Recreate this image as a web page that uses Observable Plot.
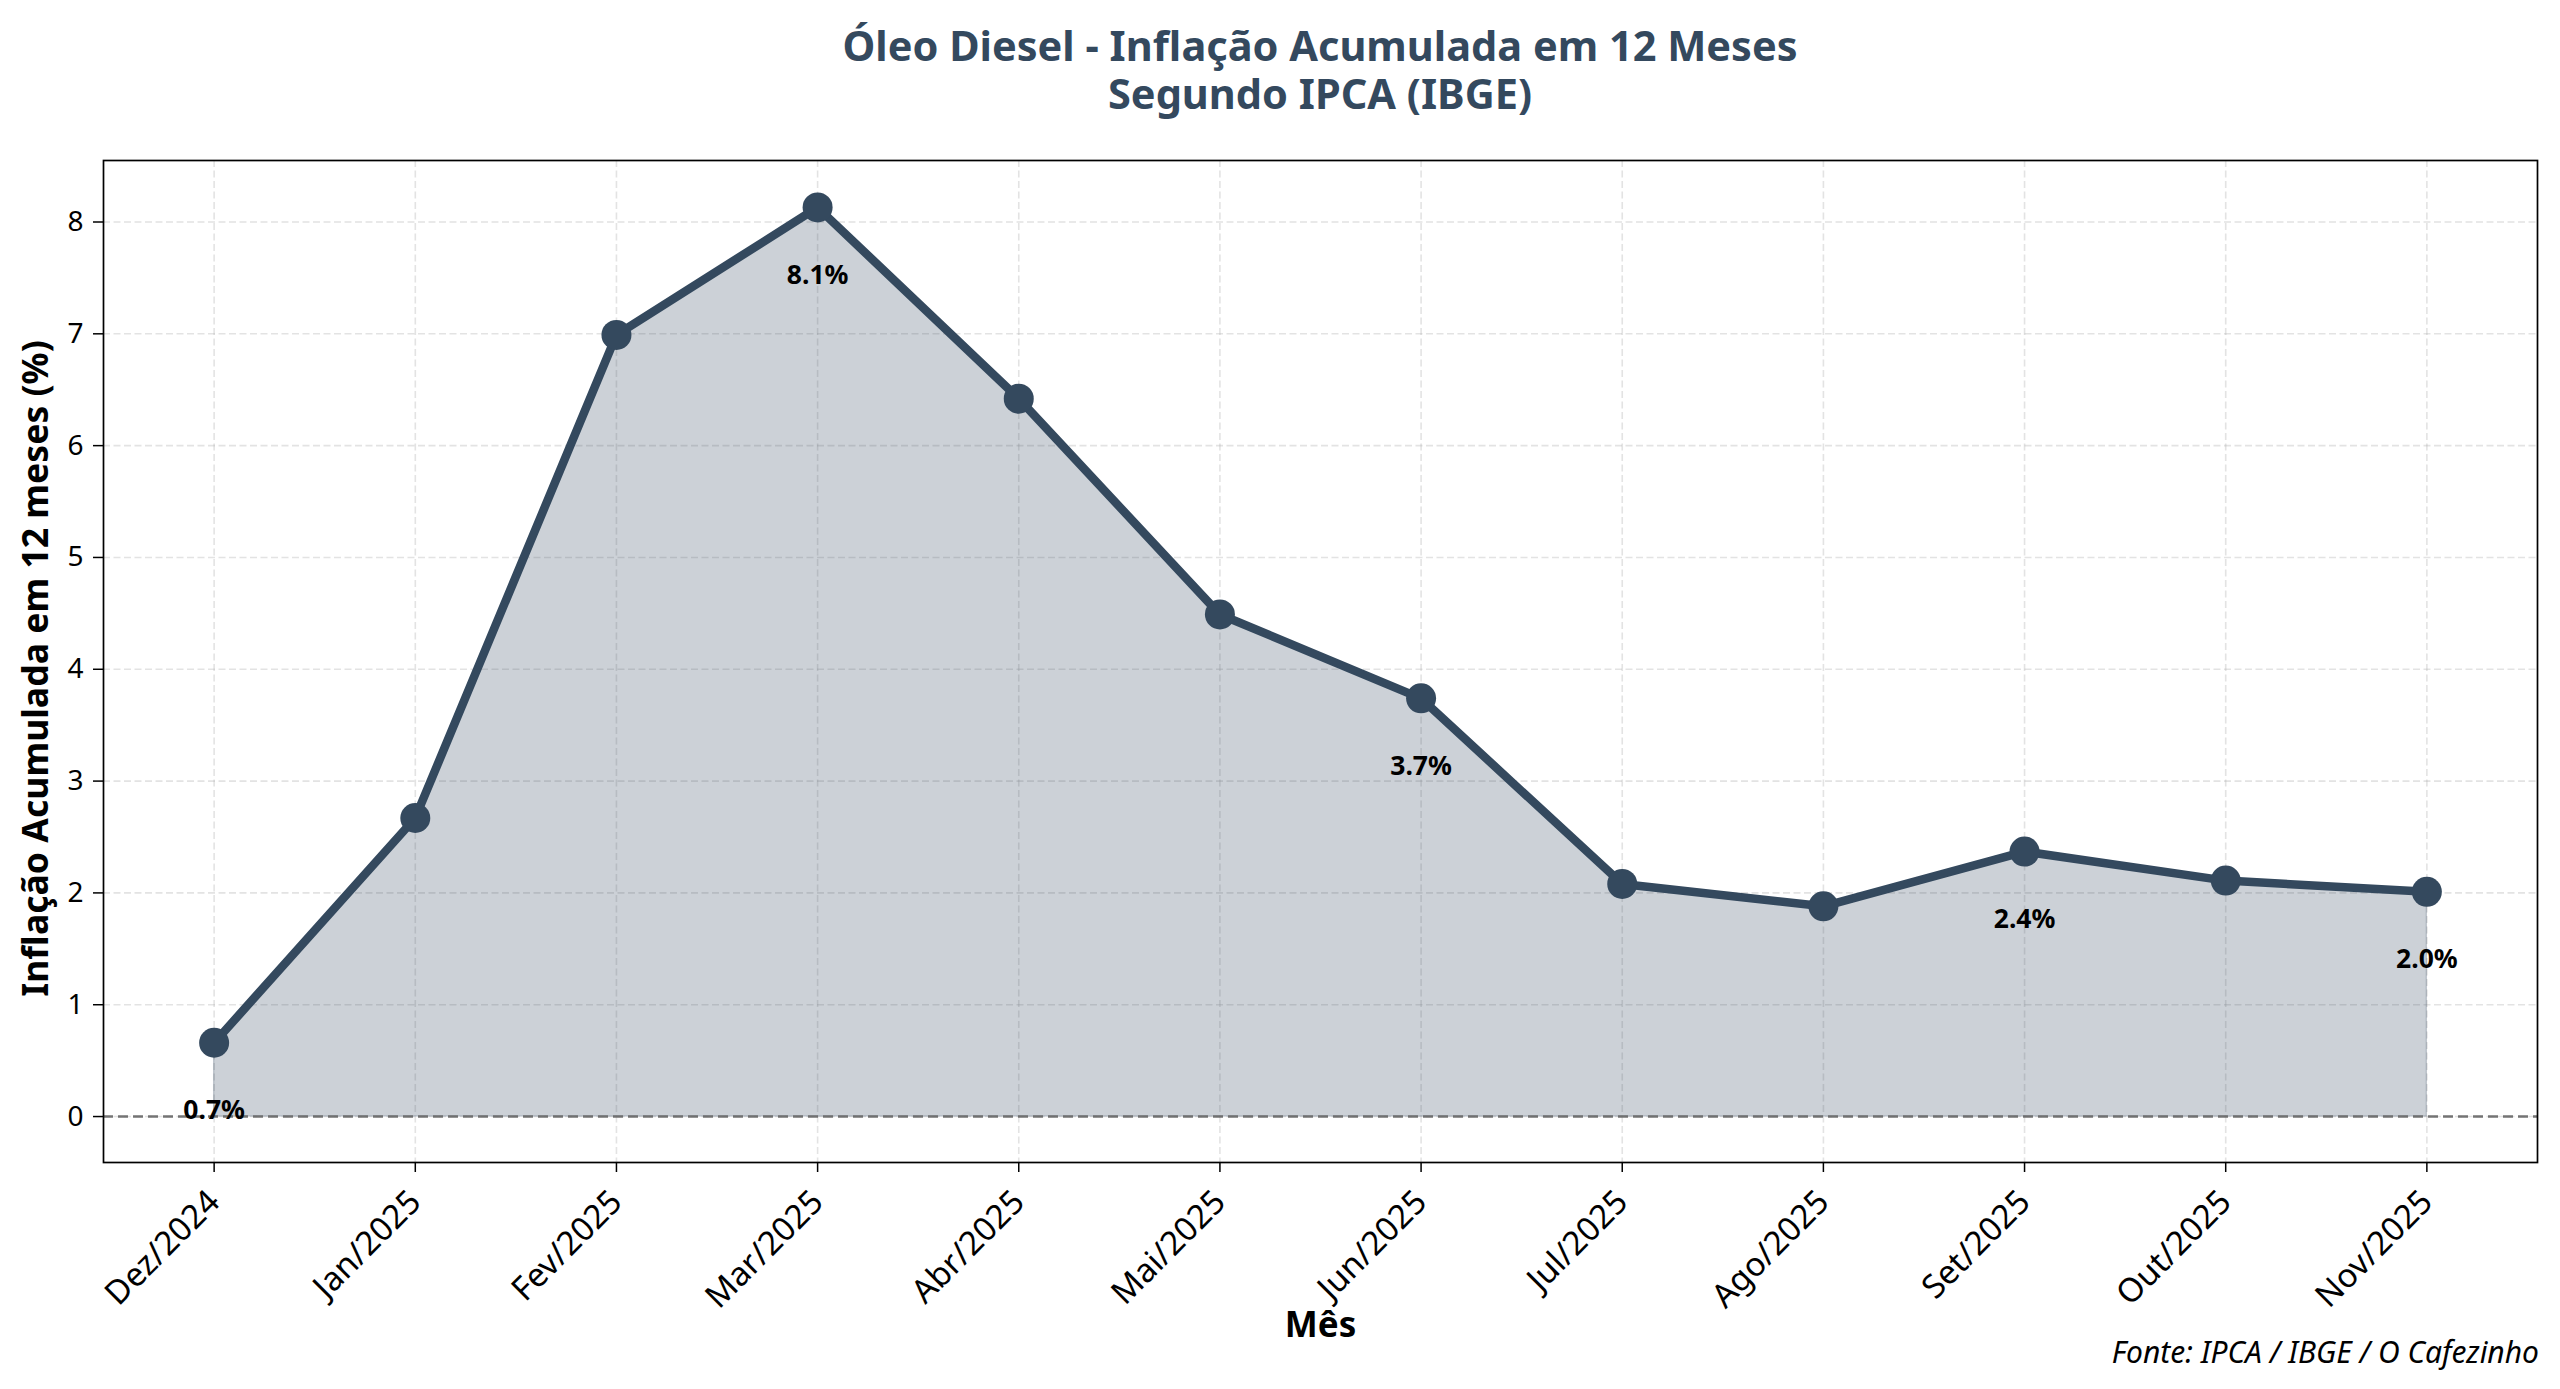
<!DOCTYPE html>
<html><head><meta charset="utf-8">
<script src="https://cdn.jsdelivr.net/npm/d3@7"></script>
<script src="https://cdn.jsdelivr.net/npm/@observablehq/plot@0.6"></script>
<style>
html,body{margin:0;padding:0;background:#fff;}
#wrap{position:relative;width:2560px;height:1389px;overflow:hidden;font-family:"Noto Sans",sans-serif;background:#fff;}
.tl{position:absolute;left:103px;width:2434px;height:46px;text-align:center;font-weight:700;font-size:41.5px;line-height:46px;color:#34495e;white-space:nowrap;}
#t1{top:22px;}
#t2{top:70px;}
#chart{position:absolute;left:0;top:140px;}
#caption{position:absolute;right:21px;top:1335px;font-style:italic;font-size:30px;line-height:34px;color:#000;}
</style></head>
<body><div id="wrap"><div class="tl" id="t1">Óleo Diesel - Inflação Acumulada em 12 Meses</div><div class="tl" id="t2">Segundo IPCA (IBGE)</div><div id="chart"></div><div id="caption">Fonte: IPCA / IBGE / O Cafezinho</div></div>
<script>
const months = ["Dez/2024","Jan/2025","Fev/2025","Mar/2025","Abr/2025","Mai/2025","Jun/2025","Jul/2025","Ago/2025","Set/2025","Out/2025","Nov/2025"];
const values = [0.66, 2.67, 6.99, 8.13, 6.42, 4.49, 3.74, 2.08, 1.88, 2.37, 2.11, 2.01];
const labelMonths = ["Dez/2024","Mar/2025","Jun/2025","Set/2025","Nov/2025"];
const yTicks = [0,1,2,3,4,5,6,7,8];
const xLabel = "Mês";
const yLabel = "Inflação Acumulada em 12 meses (%)";

const data = months.map((m,i)=>({i, month:m, value: values[i]}));
const labelData = data.filter(d => labelMonths.includes(d.month));
const xTicks = data.map(d => d.i);
const C = "#34495e";

const chart = Plot.plot({
  width: 2560, height: 1200,
  marginLeft: 103, marginRight: 23, marginTop: 20, marginBottom: 178,
  style: {fontFamily: '"Noto Sans", sans-serif', fontSize: "28px", background: "white", color: "black", overflow: "visible"},
  x: {domain: [-0.55, 11.55]},
  y: {domain: [-0.411, 8.55]},
  marks: [
    Plot.gridX({ticks: xTicks, stroke: "#b0b0b0", strokeOpacity: 0.35, strokeWidth: 1.6, strokeDasharray: "7,3.5"}),
    Plot.gridY({ticks: yTicks, stroke: "#b0b0b0", strokeOpacity: 0.35, strokeWidth: 1.6, strokeDasharray: "7,3.5"}),
    Plot.areaY(data, {x: "i", y: "value", fill: C, fillOpacity: 0.25, stroke: C, strokeOpacity: 0.25, strokeWidth: 1.3}),
    Plot.ruleY([0], {stroke: "#666", strokeWidth: 2.4, strokeDasharray: "10,5", strokeOpacity: 0.9}),
    Plot.line(data, {x: "i", y: "value", stroke: C, strokeWidth: 8.5}),
    Plot.dot(data, {x: "i", y: "value", r: 15, fill: C}),
    Plot.text(labelData, {x: "i", y: "value", text: d => d.value.toFixed(1) + "%", dy: 68, fontWeight: "bold", fontSize: 26.5, fill: "black"}),
    Plot.axisY({ticks: yTicks, tickSize: 10, tickPadding: 10, fontSize: 28, label: null, strokeWidth: 1.5}),
    Plot.axisX({ticks: xTicks, tickFormat: i => months[i], tickRotate: -45, tickSize: 10, tickPadding: 24, fontSize: 33, label: null, strokeWidth: 1.5}),
    Plot.frame({stroke: "black", strokeWidth: 1.7}),
    Plot.text([yLabel], {frameAnchor: "left", text: d => d, rotate: -90, textAnchor: "middle", lineAnchor: "middle", dx: -67, dy: 7, fontWeight: "bold", fontSize: 35.6, fill: "black"}),
    Plot.text([xLabel], {frameAnchor: "bottom", text: d => d, textAnchor: "middle", lineAnchor: "middle", dy: 163, fontWeight: "bold", fontSize: 35, fill: "black"})
  ]
});
document.getElementById("chart").appendChild(chart);
</script>
</body></html>
